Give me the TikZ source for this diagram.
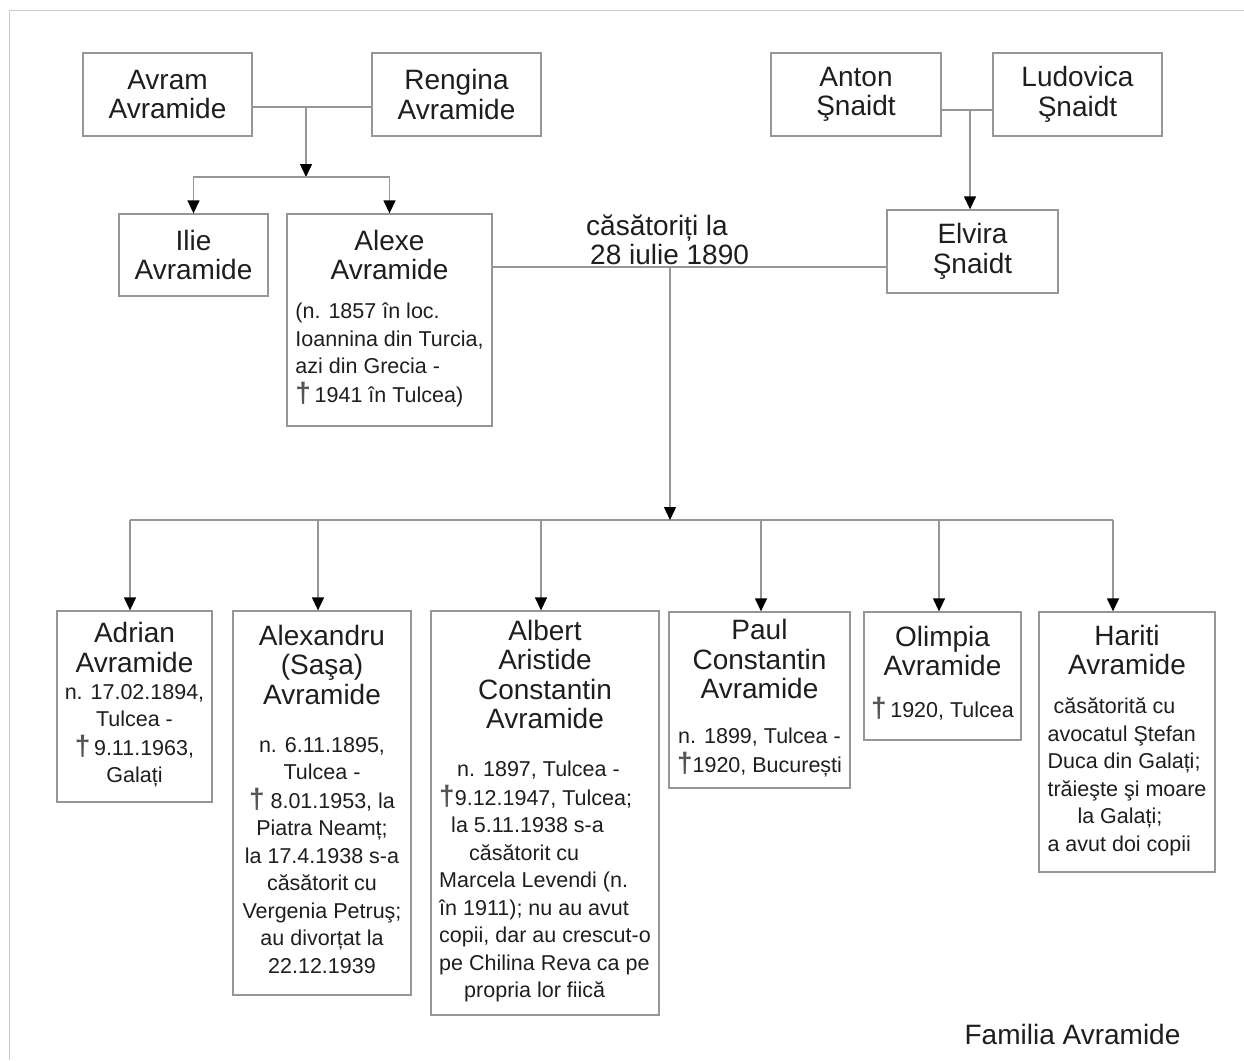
\documentclass[tikz,border=0pt]{standalone}
\usepackage{fontspec}
\setmainfont{Liberation Sans}
\usepackage{tikz}
\usetikzlibrary{arrows.meta}
\definecolor{linie}{RGB}{150,150,150}
\definecolor{chenar}{RGB}{205,205,205}
\definecolor{scris}{RGB}{30,30,30}
\definecolor{gricruce}{RGB}{85,85,85}
\newcommand{\cruce}{{\color{gricruce}\bfseries\fontsize{28}{28}\selectfont †}}
\newcommand{\detalii}[2][c]{{\fontsize{21.5}{27.5}\selectfont\begin{tabular}[t]{@{}#1@{}}#2\end{tabular}}}
\tikzstyle{box} = [
	draw=linie,
	line width=1.3pt,
	align=center,
	inner sep=0pt,
	text=scris,
	font=\fontsize{28}{29.5}\selectfont
]
\tikzstyle{line} = [draw=linie, line width=1.3pt]
\tikzstyle{arrow} = [line, -{Triangle[length=13pt,width=12pt,color=black]}]

\begin{document}
\begin{tikzpicture}[x=1pt, y=-1pt]
    \useasboundingbox (0,0) rectangle (1244,1060);
    \draw [chenar, line width=1pt] (9,1060) -- (9,10) -- (1244,10);
    % parinti
    \node [box, minimum width=169pt, minimum height=83pt] at (167.5,94.5) (avram) {Avram\\Avramide};
    \node [box, minimum width=169pt, minimum height=83pt] at (456.5,94.5) (rengina) {Rengina\\Avramide};
    \node [box, minimum width=170pt, minimum height=83pt] at (856,94.5) (anton) {Anton\\Şnaidt};
    \node [box, minimum width=169pt, minimum height=83pt] at (1077.5,94.5) (ludovica) {Ludovica\\Şnaidt};
    \node [box, minimum width=149pt, minimum height=82pt] at (193.5,255) (ilie) {Ilie\\Avramide};
    \node [box, minimum width=205pt, minimum height=212pt] at (389.5,320) (alexe) {Alexe\\Avramide\\[9.5pt]\detalii[l]{(n. 1857 în loc.\\Ioannina din Turcia,\\azi din Grecia -\\\cruce\,1941 în Tulcea)}};
    \node [box, minimum width=171pt, minimum height=83pt] at (972.5,251.5) (elvira) {Elvira\\Şnaidt};
    \node [text=scris, font=\fontsize{28}{29}\selectfont, align=left, anchor=west, inner sep=0pt] at (586,240) (data) {căsătoriți la\\\hspace*{4pt}28 iulie 1890};
    % copii
    \node [box, minimum width=155pt, minimum height=191pt] at (134.5,706.5) (adrian) {Adrian\\Avramide\\[-2.5pt]\detalii{n. 17.02.1894,\\Tulcea -\\\cruce\,9.11.1963,\\Galați}};
    \node [box, minimum width=178pt, minimum height=384pt] at (322,803) (alexandru) {Alexandru\\(Saşa)\\Avramide\\[18.5pt]\detalii{n. 6.11.1895,\\Tulcea -\\\cruce\ 8.01.1953, la\\Piatra Neamț;\\la 17.4.1938 s-a\\căsătorit cu\\Vergenia Petruş;\\au divorțat la\\22.12.1939}};
    \node [box, minimum width=228pt, minimum height=404pt] at (545,813) (albert) {Albert\\Aristide\\Constantin\\Avramide\\[18.5pt]\detalii[l]{\hspace*{18pt}n. 1897, Tulcea -\\\cruce 9.12.1947, Tulcea;\\\hspace*{12pt}la 5.11.1938 s-a\\\hspace*{30pt}căsătorit cu\\Marcela Levendi (n.\\în 1911); nu au avut\\copii, dar au crescut-o\\pe Chilina Reva ca pe\\\hspace*{25pt}propria lor fiică}};
    \node [box, minimum width=181pt, minimum height=176pt] at (759.5,700) (paul) {Paul\\Constantin\\Avramide\\[15.5pt]\detalii{n. 1899, Tulcea -\\\cruce 1920, București}};
    \node [box, minimum width=157pt, minimum height=128pt] at (942.5,676) (olimpia) {Olimpia\\Avramide\\[12.5pt]\detalii{\cruce\,1920, Tulcea}};
    \node [box, minimum width=176pt, minimum height=260pt] at (1127,742) (hariti) {Hariti\\Avramide\\[9.5pt]\detalii[l]{\hspace*{6pt}căsătorită cu\\avocatul Ştefan\\Duca din Galați;\\trăieşte şi moare\\\hspace*{30pt}la Galați;\\a avut doi copii}};
    \node [text=scris, font=\fontsize{28}{30}\selectfont, anchor=base] at (1072.5,1044) (titlu) {Familia Avramide};
    % legaturi
    \coordinate (m1) at (306,107);
    \coordinate (j1) at (306,177);
    \draw [line] (avram.east |- m1) -- (rengina.west |- m1);
    \draw [arrow] (m1) -- (j1);
    \draw [arrow] (j1) -| (ilie.north);
    \draw [arrow] (j1) -| (alexe.north);
    \coordinate (m2) at (970,110);
    \draw [line] (anton.east |- m2) -- (ludovica.west |- m2);
    \draw [arrow] (m2) -- (m2 |- elvira.north);
    \coordinate (m3) at (670,267);
    \coordinate (j3) at (670,520);
    \draw [line] (alexe.east |- m3) -- (elvira.west |- m3);
    \foreach \copil/\x [count=\i] in {adrian/130, alexandru/318, albert/541, paul/761, olimpia/939, hariti/1113}{
      \coordinate (b\i) at (\x,520);
      \draw [arrow] (b\i) -- (b\i |- \copil.north);
    }
    \draw [line] (b1) -- (b6);
    \draw [arrow] (m3) -- (j3);
\end{tikzpicture}
\end{document}
